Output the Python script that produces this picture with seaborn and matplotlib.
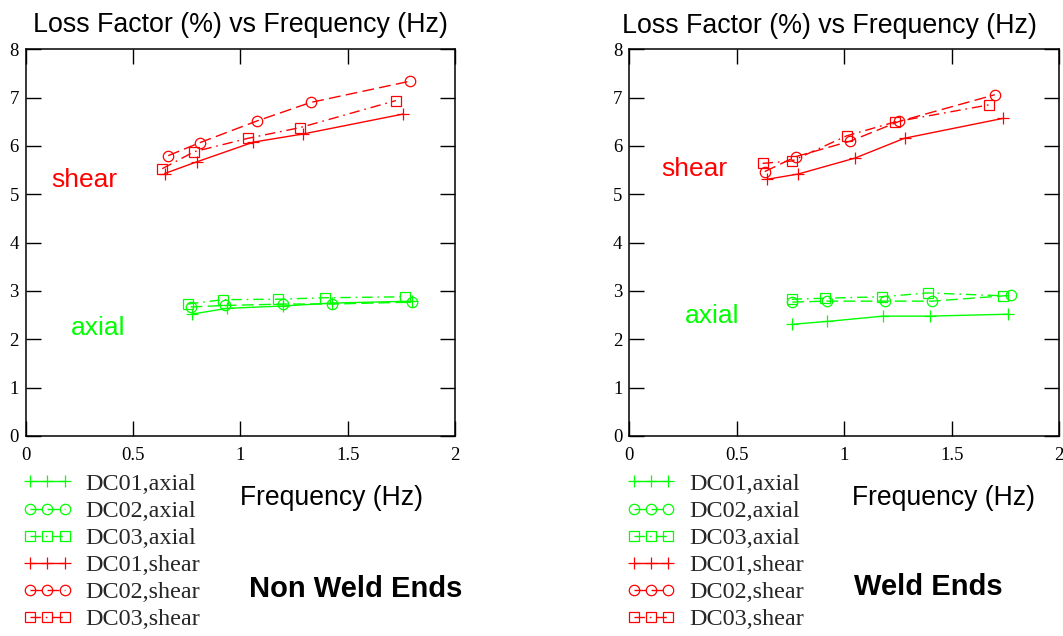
import matplotlib
matplotlib.use("Agg")
import matplotlib.pyplot as plt
import seaborn as sns
import numpy as np
from matplotlib.font_manager import FontProperties

# ---------------- data ----------------
series_labels = ["DC01,axial", "DC02,axial", "DC03,axial",
                 "DC01,shear", "DC02,shear", "DC03,shear"]

# Non Weld Ends (left panel)
nw_dc01_axial_x = [0.773, 0.936, 1.200, 1.428, 1.798]
nw_dc01_axial_y = [2.52, 2.64, 2.69, 2.75, 2.79]
nw_dc02_axial_x = [0.768, 0.930, 1.200, 1.428, 1.798]
nw_dc02_axial_y = [2.67, 2.70, 2.73, 2.73, 2.77]
nw_dc03_axial_x = [0.756, 0.917, 1.177, 1.395, 1.766]
nw_dc03_axial_y = [2.73, 2.82, 2.83, 2.86, 2.88]
nw_dc01_shear_x = [0.647, 0.796, 1.061, 1.294, 1.758]
nw_dc01_shear_y = [5.43, 5.67, 6.08, 6.25, 6.66]
nw_dc02_shear_x = [0.664, 0.812, 1.079, 1.327, 1.790]
nw_dc02_shear_y = [5.80, 6.07, 6.52, 6.90, 7.34]
nw_dc03_shear_x = [0.636, 0.784, 1.037, 1.278, 1.725]
nw_dc03_shear_y = [5.53, 5.88, 6.16, 6.38, 6.94]

# Weld Ends (right panel)
w_dc01_axial_x = [0.755, 0.921, 1.181, 1.399, 1.763]
w_dc01_axial_y = [2.31, 2.37, 2.48, 2.48, 2.52]
w_dc02_axial_x = [0.758, 0.920, 1.189, 1.409, 1.774]
w_dc02_axial_y = [2.77, 2.79, 2.79, 2.79, 2.91]
w_dc03_axial_x = [0.755, 0.910, 1.174, 1.388, 1.740]
w_dc03_axial_y = [2.83, 2.85, 2.88, 2.96, 2.90]
w_dc01_shear_x = [0.640, 0.786, 1.050, 1.280, 1.737]
w_dc01_shear_y = [5.31, 5.42, 5.75, 6.16, 6.57]
w_dc02_shear_x = [0.630, 0.775, 1.028, 1.256, 1.700]
w_dc02_shear_y = [5.47, 5.78, 6.10, 6.51, 7.06]
w_dc03_shear_x = [0.620, 0.757, 1.011, 1.238, 1.672]
w_dc03_shear_y = [5.64, 5.69, 6.21, 6.50, 6.85]

x_ticks = [0, 0.5, 1, 1.5, 2]
x_tick_labels = ["0", "0.5", "1", "1.5", "2"]
y_ticks = [0, 1, 2, 3, 4, 5, 6, 7, 8]
y_tick_labels = ["0", "1", "2", "3", "4", "5", "6", "7", "8"]

panels = [
    dict(series=[(nw_dc01_axial_x, nw_dc01_axial_y), (nw_dc02_axial_x, nw_dc02_axial_y),
                 (nw_dc03_axial_x, nw_dc03_axial_y), (nw_dc01_shear_x, nw_dc01_shear_y),
                 (nw_dc02_shear_x, nw_dc02_shear_y), (nw_dc03_shear_x, nw_dc03_shear_y)],
         name="Non Weld Ends"),
    dict(series=[(w_dc01_axial_x, w_dc01_axial_y), (w_dc02_axial_x, w_dc02_axial_y),
                 (w_dc03_axial_x, w_dc03_axial_y), (w_dc01_shear_x, w_dc01_shear_y),
                 (w_dc02_shear_x, w_dc02_shear_y), (w_dc03_shear_x, w_dc03_shear_y)],
         name="Weld Ends"),
]

# ---------------- style ----------------
sns.set_theme(style="ticks")
plt.rcParams["font.family"] = ["Liberation Serif", "DejaVu Serif"]

W, H = 1063, 636
fig = plt.figure(figsize=(W / 100, H / 100), dpi=100)
fig.patch.set_facecolor("white")

GREEN = "#00ff00"
RED = "#ff0000"
colors = [GREEN, GREEN, GREEN, RED, RED, RED]
markers = ["+", "o", "s", "+", "o", "s"]
msizes = [8.5, 7.5, 6.8, 8.5, 7.5, 6.8]
lstyles = ["-", (0, (8.5, 3.8)), (0, (7.5, 3.5, 1.2, 3.5)),
           "-", (0, (8.5, 3.8)), (0, (7.5, 3.5, 1.2, 3.5))]

def fx(px):
    return px / W

def fy(py):
    return 1 - py / H

axes_px = [(25.7, 455.0), (629.3, 1059.3)]
top_px, bot_px = 49.3, 436.0

sans = "Liberation Sans"

title_pos = [(240, 32.5), (829, 33.0)]
xlabel_pos = [(331, 505), (943, 505)]
name_pos = [(355.7, 597.3), (928, 595)]
shear_pos = [(0.272, 5.16), (0.304, 5.37)]
axial_pos = [(0.339, 2.09), (0.387, 2.33)]
legend_left = [22.7, 626.3]

for i, panel in enumerate(panels):
    l, r = axes_px[i]
    ax = fig.add_axes([fx(l), fy(bot_px), (r - l) / W, (bot_px - top_px) / H])
    ax.set_facecolor("white")
    for j, (xs, ys) in enumerate(panel["series"]):
        sns.lineplot(x=np.array(xs), y=np.array(ys), ax=ax, color=colors[j],
                     marker=markers[j], markersize=msizes[j], markerfacecolor="none",
                     markeredgecolor=colors[j], markeredgewidth=0.9,
                     linestyle=lstyles[j], linewidth=1.0, label=series_labels[j],
                     legend=False, estimator=None, sort=False)
    ax.set_xlim(0, 2)
    ax.set_ylim(0, 8)
    ax.set_xticks(x_ticks)
    ax.set_xticklabels(x_tick_labels)
    ax.set_yticks(y_ticks)
    ax.set_yticklabels(y_tick_labels)
    ax.set_xlabel("")
    ax.set_ylabel("")
    ax.tick_params(axis="both", which="major", direction="in", length=10.5, width=1.0,
                   top=True, right=True, labelsize=13.5, colors="black")
    ax.tick_params(axis="x", pad=8)
    ax.tick_params(axis="y", pad=5)
    for s in ax.spines.values():
        s.set_visible(True)
        s.set_linewidth(1.1)
        s.set_color("black")
    ax.grid(False)

    ax.text(shear_pos[i][0], shear_pos[i][1], "shear", color=RED, family=sans,
            fontsize=19, ha="center", va="baseline")
    ax.text(axial_pos[i][0], axial_pos[i][1], "axial", color=GREEN, family=sans,
            fontsize=19, ha="center", va="baseline")

    fig.text(fx(title_pos[i][0]), fy(title_pos[i][1]), "Loss Factor (%) vs Frequency (Hz)",
             family=sans, fontsize=19.3, ha="center", va="baseline", color="black")
    fig.text(fx(xlabel_pos[i][0]), fy(xlabel_pos[i][1]), "Frequency (Hz)",
             family=sans, fontsize=19.1, ha="center", va="baseline", color="black")
    fig.text(fx(name_pos[i][0]), fy(name_pos[i][1]), panel["name"],
             family=sans, fontsize=21, fontweight="bold", ha="center", va="baseline",
             color="black")

    handles, labels = ax.get_legend_handles_labels()
    fig.legend(handles, labels, loc="upper left",
               bbox_to_anchor=(fx(legend_left[i]), fy(473)),
               bbox_transform=fig.transFigure, frameon=False, numpoints=3,
               handlelength=2.04, handletextpad=0.56, labelspacing=0.215,
               borderpad=0, borderaxespad=0,
               prop=FontProperties(family="Liberation Serif", size=17.4))

fig.savefig("out.png", dpi=100, facecolor="white")
